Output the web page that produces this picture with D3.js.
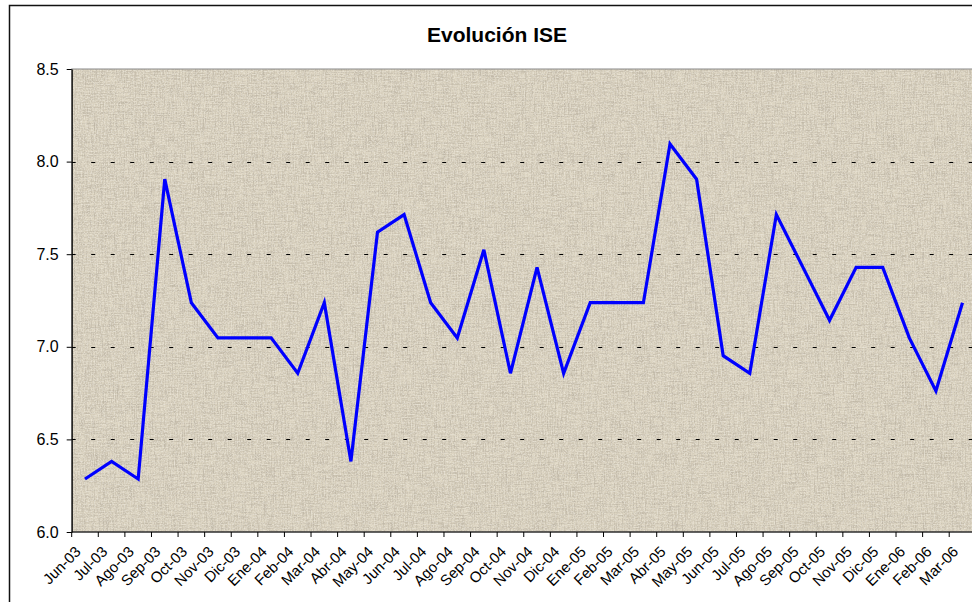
<!DOCTYPE html>
<html>
<head>
<meta charset="utf-8">
<script src="https://cdn.jsdelivr.net/npm/d3@7"></script>
<style>
  html, body { margin: 0; padding: 0; background: #fff; overflow: hidden; }
  svg { display: block; font-family: "Liberation Sans", Arial, sans-serif; }
</style>
</head>
<body>
<svg id="chart" width="972" height="602"></svg>
<script>
const title = "Evolución ISE";
const categories = ["Jun-03","Jul-03","Ago-03","Sep-03","Oct-03","Nov-03","Dic-03","Ene-04","Feb-04","Mar-04","Abr-04","May-04","Jun-04","Jul-04","Ago-04","Sep-04","Oct-04","Nov-04","Dic-04","Ene-05","Feb-05","Mar-05","Abr-05","May-05","Jun-05","Jul-05","Ago-05","Sep-05","Oct-05","Nov-05","Dic-05","Ene-06","Feb-06","Mar-06"];
const iseValues = [6.286,6.381,6.286,7.905,7.238,7.048,7.048,7.048,6.857,7.238,6.381,7.619,7.714,7.238,7.048,7.524,6.857,7.429,6.857,7.238,7.238,7.238,8.095,7.905,6.952,6.857,7.714,7.429,7.143,7.429,7.429,7.048,6.762,7.238];
const yTicks = [6.0,6.5,7.0,7.5,8.0,8.5];
const yDomain = [6.0, 8.5];

const svg = d3.select("#chart");
const plot = {left: 71.7, right: 975.8, top: 69, bottom: 532};

const x = d3.scaleBand().domain(categories).range([plot.left, plot.right]).padding(0);
const y = d3.scaleLinear().domain(yDomain).range([plot.bottom, plot.top]);

// defs: linen texture
const defs = svg.append("defs");
const f = defs.append("filter").attr("id","linen").attr("x",0).attr("y",0).attr("width","100%").attr("height","100%");
f.append("feTurbulence").attr("type","fractalNoise").attr("baseFrequency","0.9 0.06").attr("numOctaves",2).attr("seed",3).attr("result","n1");
f.append("feColorMatrix").attr("in","n1").attr("type","matrix")
 .attr("values","0 0 0 0 0.35  0 0 0 0 0.31  0 0 0 0 0.25  1.5 0 0 0 -0.58").attr("result","h");
f.append("feTurbulence").attr("type","fractalNoise").attr("baseFrequency","0.06 0.9").attr("numOctaves",2).attr("seed",7).attr("result","n2");
f.append("feColorMatrix").attr("in","n2").attr("type","matrix")
 .attr("values","0 0 0 0 0.35  0 0 0 0 0.31  0 0 0 0 0.25  1.5 0 0 0 -0.58").attr("result","v");
f.append("feTurbulence").attr("type","fractalNoise").attr("baseFrequency","0.7").attr("numOctaves",1).attr("seed",11).attr("result","n3");
f.append("feColorMatrix").attr("in","n3").attr("type","matrix")
 .attr("values","0 0 0 0 1  0 0 0 0 0.98  0 0 0 0 0.93  1.8 0 0 0 -0.8").attr("result","w");
const m = f.append("feMerge");
m.append("feMergeNode").attr("in","h");
m.append("feMergeNode").attr("in","v");
m.append("feMergeNode").attr("in","w");

// outer chart border
svg.append("rect").attr("x",9.5).attr("y",5.5).attr("width",1000).attr("height",700)
  .attr("fill","#fff").attr("stroke","#111").attr("stroke-width",1.5);

// plot background
svg.append("rect").attr("x",plot.left).attr("y",plot.top)
  .attr("width",plot.right-plot.left).attr("height",plot.bottom-plot.top)
  .attr("fill","#ddd5c2");
svg.append("rect").attr("x",plot.left).attr("y",plot.top)
  .attr("width",plot.right-plot.left).attr("height",plot.bottom-plot.top)
  .attr("fill","#000").attr("filter","url(#linen)").attr("opacity",0.6);
svg.append("rect").attr("x",plot.left).attr("y",plot.top)
  .attr("width",plot.right-plot.left).attr("height",plot.bottom-plot.top)
  .attr("fill","none").attr("stroke","#8a8a8a").attr("stroke-width",1);

// gridlines
svg.append("g").selectAll("line").data(yTicks.filter(d => d > yDomain[0] && d < yDomain[1]))
  .join("line")
  .attr("x1",plot.left).attr("x2",plot.right)
  .attr("y1",d => Math.round(y(d))+0.5).attr("y2",d => Math.round(y(d))+0.5)
  .attr("stroke","#000").attr("stroke-width",1).attr("stroke-dasharray","4,15.5");

// y axis
const yAxis = svg.append("g").attr("transform",`translate(${plot.left},0)`)
  .call(d3.axisLeft(y).tickValues(yTicks).tickFormat(d3.format(".1f")).tickSize(5).tickSizeOuter(0));
yAxis.select(".domain").attr("stroke","#000").attr("stroke-width",1.2);
yAxis.selectAll(".tick line").attr("stroke","#000");
yAxis.selectAll(".tick text").attr("font-size",16).attr("fill","#000").attr("x",-13)
  .attr("font-family","'Liberation Sans', Arial, sans-serif");

// x axis line and ticks at band edges
const xg = svg.append("g");
xg.append("line").attr("x1",plot.left).attr("x2",plot.right).attr("y1",plot.bottom).attr("y2",plot.bottom)
  .attr("stroke","#000").attr("stroke-width",1.2);
const edges = categories.map(c => x(c)).concat([plot.right]);
xg.selectAll("line.tk").data(edges).join("line").attr("class","tk")
  .attr("x1",d => d).attr("x2",d => d).attr("y1",plot.bottom).attr("y2",plot.bottom+5)
  .attr("stroke","#000").attr("stroke-width",1);
xg.selectAll("text").data(categories).join("text")
  .attr("transform",c => `translate(${x(c)+x.bandwidth()/2-7},${plot.bottom+17}) rotate(-45)`)
  .attr("text-anchor","end").attr("dy","0.35em")
  .attr("font-size",15).attr("fill","#000")
  .text(c => c);

// line
const line = d3.line().x((d,i) => x(categories[i]) + x.bandwidth()/2).y(d => y(d));
svg.append("path").datum(iseValues).attr("d",line)
  .attr("fill","none").attr("stroke","#0000ff").attr("stroke-width",3.2)
  .attr("stroke-linejoin","miter");

// title
svg.append("text").attr("x",497).attr("y",42).attr("text-anchor","middle")
  .attr("font-size",21).attr("font-weight","bold").attr("fill","#000").text(title);
</script>
</body>
</html>
